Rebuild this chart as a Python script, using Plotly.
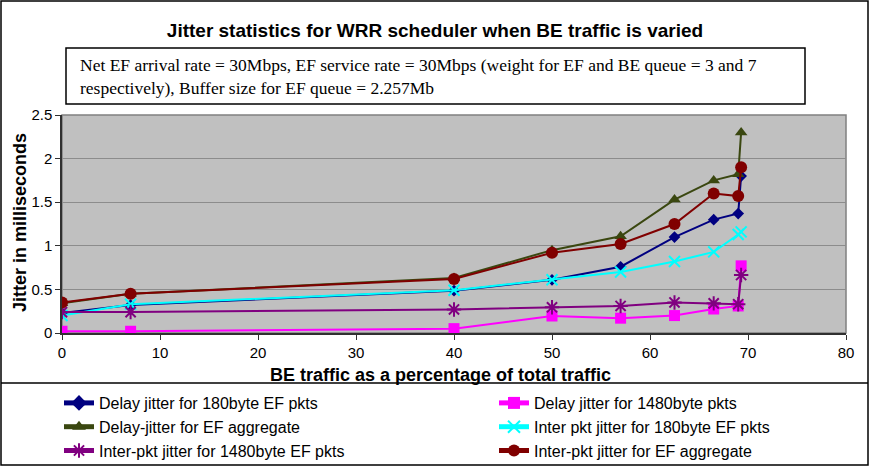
import plotly.graph_objects as go

be_traffic = [0, 7, 40, 50, 57, 62.5, 66.5, 69, 69.3]

delay_180 = [0.23, 0.32, 0.485, 0.61, 0.76, 1.10, 1.30, 1.37, 1.80]
delay_1480 = [0.02, 0.02, 0.05, 0.195, 0.17, 0.20, 0.275, 0.31, 0.77]
delay_agg = [0.34, 0.45, 0.63, 0.95, 1.11, 1.53, 1.75, 1.82, 2.30]
inter_180 = [0.20, 0.33, 0.49, 0.61, 0.70, 0.82, 0.93, 1.13, 1.16]
inter_1480 = [0.24, 0.24, 0.27, 0.295, 0.31, 0.35, 0.34, 0.33, 0.665]
inter_agg = [0.35, 0.45, 0.62, 0.92, 1.02, 1.25, 1.60, 1.57, 1.90]

series_names = [
    "Delay jitter for 180byte EF pkts",
    "Delay jitter for 1480byte pkts",
    "Delay-jitter for EF aggregate",
    "Inter pkt jitter for 180byte EF pkts",
    "Inter-pkt jitter for 1480byte EF pkts",
    "Inter-pkt jitter for EF aggregate",
]
series_values = [delay_180, delay_1480, delay_agg, inter_180, inter_1480, inter_agg]
colors = ["#000080", "#FF00FF", "#3A4710", "#00FFFF", "#800080", "#800000"]
symbols = ["diamond", "square", "triangle-up", "x-thin", "asterisk", "circle"]
sizes = [9, 11, 11, 11, 12, 12]
legend_ids = ["legend", "legend2", "legend", "legend2", "legend", "legend2"]

x_ticks = [0, 10, 20, 30, 40, 50, 60, 70, 80]
y_ticks = [0, 0.5, 1, 1.5, 2, 2.5]

x_title = "<b>BE traffic as a percentage of total traffic</b>"
y_title = "<b>Jitter in milliseconds</b>"

fig = go.Figure()
for name, vals, c, s, sz, lg in zip(series_names, series_values, colors, symbols, sizes, legend_ids):
    open_sym = s in ("x-thin", "asterisk")
    fig.add_trace(go.Scatter(
        x=be_traffic, y=vals, name=name, mode="lines+markers", legend=lg,
        line=dict(color=c, width=2),
        marker=dict(symbol=s, size=sz, color=c,
                    line=dict(color=c, width=2 if open_sym else 0)),
    ))

W, H = 870, 466
L, R, T, B = 62, 24, 115, 133
pw, ph = W - L - R, H - T - B

def px(x):
    return (x - L) / pw

def py(y):
    return (H - B - y) / ph

shapes = [
    dict(type="rect", xref="paper", yref="paper", x0=px(1), x1=px(868), y0=py(1), y1=py(465),
         line=dict(color="black", width=1.5), layer="below"),
    dict(type="line", xref="paper", yref="paper", x0=px(1), x1=px(868), y0=py(383), y1=py(383),
         line=dict(color="black", width=1.5)),
    dict(type="rect", xref="paper", yref="paper", x0=0, x1=1, y0=0, y1=1,
         line=dict(color="#808080", width=1.5), layer="below"),
    dict(type="rect", xref="paper", yref="paper", x0=px(66), x1=px(805), y0=py(104), y1=py(48),
         line=dict(color="black", width=1.5), fillcolor="white"),
]

legend_common = dict(orientation="v", xref="container", yref="container",
                     xanchor="left", yanchor="top", tracegroupgap=0,
                     font=dict(size=16, family="Liberation Sans, Arial"),
                     bgcolor="rgba(0,0,0,0)", itemsizing="constant")

fig.update_layout(
    width=W, height=H,
    margin=dict(l=L, r=R, t=T, b=B, autoexpand=False),
    paper_bgcolor="white", plot_bgcolor="#C0C0C0",
    font=dict(family="Liberation Sans, Arial", size=15, color="black"),
    title=dict(text="<b>Jitter statistics for WRR scheduler when BE traffic is varied</b>",
               x=0.5, xanchor="center", y=1 - 30 / H, yanchor="middle",
               font=dict(size=19, family="Liberation Sans, Arial")),
    xaxis=dict(range=[0, 80], tickvals=x_ticks, showgrid=False, zeroline=False,
               showline=True, linecolor="#303030", linewidth=1.5,
               ticks="outside", ticklen=5, tickcolor="#303030", automargin=False),
    yaxis=dict(range=[0, 2.5], tickvals=y_ticks, ticktext=["0", "0.5", "1", "1.5", "2", "2.5"],
               showgrid=True, gridcolor="#8C8C8C", gridwidth=1, zeroline=False,
               showline=True, linecolor="#303030", linewidth=1.5,
               ticks="outside", ticklen=5, tickcolor="#303030", automargin=False),
    legend=dict(x=59 / W, y=1 - 386 / H, **legend_common),
    legend2=dict(x=494 / W, y=1 - 386 / H, **legend_common),
    shapes=shapes,
    annotations=[
        dict(xref="paper", yref="paper", x=px(78), y=py(76), xanchor="left", yanchor="middle",
             align="left", showarrow=False,
             text="Net EF arrival rate = 30Mbps, EF service rate = 30Mbps (weight for EF and BE queue = 3 and 7<br>respectively), Buffer size for EF queue = 2.257Mb",
             font=dict(family="Liberation Serif, Times New Roman", size=17.5, color="black")),
        dict(xref="paper", yref="paper", x=px(440), y=py(375), xanchor="center", yanchor="middle",
             showarrow=False, text=x_title, font=dict(size=18)),
        dict(xref="paper", yref="paper", x=px(20), y=py(223), xanchor="center", yanchor="middle",
             showarrow=False, text=y_title, textangle=-90, font=dict(size=18)),
    ],
)

fig.write_html("out.html")
